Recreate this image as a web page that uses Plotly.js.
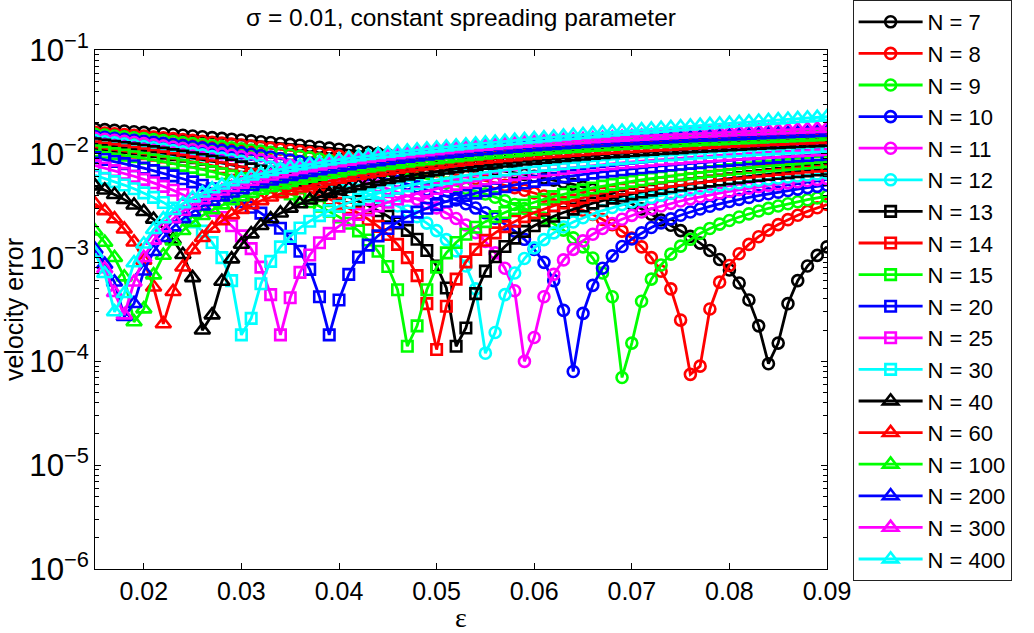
<!DOCTYPE html>
<html><head><meta charset="utf-8">
<script src="https://cdn.plot.ly/plotly-3.0.1.min.js"></script>
<style>html,body{margin:0;padding:0;background:#fff}#chart{width:1034px;height:633px}</style>
</head><body><div id="chart"></div>
<script>
// spreading parameter epsilon (x axis)
const epsilon = [0.015,0.016,0.017,0.018,0.019,0.020,0.021,0.022,0.023,0.024,0.025,0.026,0.027,0.028,0.029,0.030,0.031,0.032,0.033,0.034,0.035,0.036,0.037,0.038,0.039,0.040,0.041,0.042,0.043,0.044,0.045,0.046,0.047,0.048,0.049,0.050,0.051,0.052,0.053,0.054,0.055,0.056,0.057,0.058,0.059,0.060,0.061,0.062,0.063,0.064,0.065,0.066,0.067,0.068,0.069,0.070,0.071,0.072,0.073,0.074,0.075,0.076,0.077,0.078,0.079,0.080,0.081,0.082,0.083,0.084,0.085,0.086,0.087,0.088,0.089,0.090];

// velocity error, in units of 1e-3
const errN7 = [17.33,17.08,16.83,16.58,16.33,16.08,15.83,15.58,15.33,15.08,14.83,14.58,14.33,14.08,13.83,13.58,13.33,13.08,12.83,12.58,12.33,12.08,11.83,11.58,11.33,11.08,10.83,10.58,10.33,10.08,9.83,9.58,9.33,9.08,8.83,8.58,8.33,8.08,7.83,7.58,7.33,7.08,6.83,6.58,6.33,6.08,5.83,5.58,5.33,5.08,4.8,4.53,4.25,3.95,3.65,3.3,2.95,2.62,2.3,2.05,1.82,1.6,1.38,1.17,0.96,0.76,0.57,0.39,0.22,0.095,0.15,0.36,0.6,0.83,1.05,1.27];
const errN8 = [16.11,15.85,15.58,15.32,15.05,14.79,14.52,14.26,13.99,13.73,13.46,13.20,12.93,12.67,12.40,12.14,11.87,11.61,11.34,11.08,10.81,10.55,10.28,10.02,9.75,9.49,9.22,8.96,8.69,8.43,8.16,7.90,7.63,7.37,7.10,6.84,6.57,6.31,6.04,5.78,5.51,5.25,4.98,4.72,4.45,4.19,3.92,3.66,3.39,3.13,2.86,2.60,2.33,2.07,1.80,1.54,1.27,1.0,0.74,0.5,0.25,0.075,0.09,0.32,0.58,0.84,1.09,1.34,1.59,1.84,2.08,2.32,2.56,2.79,3.02,3.25];
const errN9 = [15.40,15.12,14.84,14.55,14.27,13.99,13.71,13.42,13.14,12.86,12.58,12.29,12.01,11.73,11.45,11.16,10.88,10.60,10.31,10.03,9.75,9.47,9.18,8.90,8.62,8.34,8.05,7.77,7.49,7.21,6.92,6.64,6.36,6.08,5.79,5.51,5.23,4.95,4.66,4.38,4.10,3.82,3.53,3.25,2.97,2.68,2.40,2.12,1.84,1.55,1.27,0.99,0.71,0.42,0.07,0.15,0.38,0.62,0.85,1.08,1.29,1.50,1.71,1.91,2.10,2.28,2.46,2.64,2.81,2.98,3.14,3.30,3.45,3.61,3.75,3.90];
const errN10 = [14.70,14.40,14.10,13.80,13.50,13.20,12.90,12.60,12.30,12.00,11.70,11.40,11.10,10.80,10.50,10.20,9.90,9.60,9.30,9.00,8.70,8.40,8.10,7.80,7.50,7.20,6.90,6.60,6.30,6.00,5.70,5.40,5.10,4.80,4.50,4.20,3.90,3.60,3.30,3.00,2.70,2.40,2.10,1.80,1.50,1.20,0.90,0.60,0.31,0.08,0.29,0.54,0.79,1.04,1.28,1.51,1.73,1.95,2.16,2.36,2.56,2.75,2.94,3.12,3.29,3.47,3.64,3.80,3.96,4.12,4.27,4.43,4.57,4.72,4.86,5.00];
const errN11 = [14.11,13.79,13.47,13.16,12.84,12.52,12.20,11.89,11.57,11.25,10.94,10.62,10.30,9.99,9.67,9.35,9.03,8.72,8.40,8.08,7.77,7.45,7.13,6.82,6.50,6.18,5.86,5.55,5.23,4.91,4.60,4.28,3.96,3.65,3.33,3.01,2.69,2.38,2.06,1.74,1.43,1.11,0.79,0.48,0.10,0.17,0.42,0.69,0.95,1.20,1.45,1.68,1.91,2.13,2.34,2.55,2.75,2.95,3.14,3.33,3.51,3.68,3.86,4.03,4.19,4.35,4.51,4.67,4.82,4.97,5.11,5.25,5.39,5.53,5.67,5.80];
const errN12 = [13.41,13.07,12.74,12.41,12.08,11.75,11.42,11.09,10.76,10.43,10.10,9.76,9.43,9.10,8.77,8.44,8.11,7.78,7.45,7.12,6.79,6.45,6.12,5.79,5.46,5.13,4.80,4.47,4.14,3.81,3.48,3.14,2.81,2.48,2.15,1.82,1.49,1.16,0.83,0.50,0.12,0.19,0.44,0.71,0.98,1.24,1.49,1.73,1.97,2.20,2.42,2.63,2.84,3.04,3.24,3.43,3.62,3.80,3.98,4.15,4.32,4.49,4.65,4.81,4.97,5.12,5.27,5.42,5.56,5.71,5.84,5.98,6.12,6.25,6.38,6.50];
const errN13 = [12.49,12.15,11.82,11.49,11.16,10.82,10.49,10.16,9.82,9.49,9.16,8.82,8.49,8.16,7.83,7.49,7.16,6.83,6.49,6.16,5.83,5.49,5.16,4.83,4.50,4.16,3.83,3.50,3.16,2.83,2.50,2.16,1.83,1.50,1.17,0.83,0.51,0.14,0.21,0.45,0.74,1.02,1.28,1.54,1.79,2.03,2.27,2.50,2.72,2.93,3.14,3.35,3.54,3.74,3.93,4.11,4.29,4.47,4.64,4.81,4.97,5.14,5.29,5.45,5.60,5.75,5.90,6.04,6.18,6.32,6.46,6.59,6.72,6.85,6.98,7.10];
const errN14 = [11.69,11.36,11.02,10.69,10.35,10.02,9.69,9.35,9.02,8.68,8.35,8.02,7.68,7.35,7.01,6.68,6.35,6.01,5.68,5.34,5.01,4.68,4.34,4.01,3.67,3.34,3.01,2.67,2.34,2.00,1.67,1.34,1.00,0.67,0.36,0.13,0.34,0.62,0.91,1.20,1.47,1.73,1.99,2.24,2.48,2.71,2.94,3.16,3.37,3.58,3.79,3.99,4.18,4.37,4.56,4.74,4.92,5.09,5.26,5.42,5.59,5.75,5.90,6.06,6.21,6.36,6.50,6.64,6.78,6.92,7.06,7.19,7.32,7.45,7.58,7.70];
const errN15 = [10.69,10.36,10.03,9.71,9.38,9.05,8.72,8.39,8.06,7.73,7.40,7.07,6.74,6.42,6.09,5.76,5.43,5.10,4.77,4.44,4.11,3.78,3.45,3.13,2.80,2.47,2.14,1.81,1.48,1.15,0.82,0.49,0.14,0.22,0.49,0.81,1.11,1.40,1.68,1.96,2.22,2.48,2.72,2.97,3.20,3.43,3.65,3.87,4.08,4.29,4.49,4.69,4.88,5.07,5.25,5.43,5.61,5.78,5.95,6.11,6.28,6.44,6.59,6.75,6.90,7.05,7.19,7.34,7.48,7.62,7.75,7.89,8.02,8.15,8.28,8.40];
const errN20 = [9.19,8.81,8.43,8.04,7.66,7.28,6.89,6.51,6.13,5.75,5.36,4.98,4.60,4.21,3.83,3.45,3.06,2.68,2.30,1.92,1.53,1.15,0.77,0.42,0.18,0.39,0.69,1.01,1.32,1.62,1.91,2.20,2.47,2.74,2.99,3.24,3.49,3.73,3.96,4.18,4.40,4.62,4.83,5.03,5.23,5.43,5.62,5.81,5.99,6.17,6.34,6.52,6.69,6.85,7.02,7.18,7.34,7.49,7.64,7.79,7.94,8.08,8.23,8.37,8.50,8.64,8.77,8.91,9.04,9.16,9.29,9.41,9.54,9.66,9.78,9.90];
const errN25 = [7.70,7.29,6.89,6.48,6.08,5.67,5.27,4.86,4.46,4.05,3.65,3.24,2.84,2.43,2.03,1.62,1.22,0.81,0.44,0.18,0.41,0.72,1.06,1.39,1.71,2.01,2.31,2.60,2.88,3.15,3.41,3.67,3.92,4.16,4.40,4.63,4.86,5.08,5.29,5.50,5.71,5.91,6.11,6.30,6.49,6.67,6.86,7.03,7.21,7.38,7.55,7.71,7.88,8.04,8.19,8.35,8.50,8.65,8.80,8.94,9.09,9.23,9.37,9.50,9.64,9.77,9.90,10.03,10.16,10.28,10.41,10.53,10.65,10.77,10.89,11.00];
const errN30 = [6.20,5.80,5.40,5.00,4.60,4.20,3.80,3.40,3.00,2.60,2.20,1.80,1.40,1.00,0.60,0.18,0.26,0.56,0.92,1.27,1.60,1.93,2.24,2.54,2.84,3.12,3.40,3.67,3.93,4.18,4.43,4.67,4.91,5.14,5.37,5.59,5.80,6.01,6.22,6.42,6.62,6.81,7.00,7.19,7.37,7.55,7.73,7.90,8.07,8.24,8.40,8.56,8.72,8.88,9.03,9.18,9.33,9.48,9.62,9.77,9.91,10.05,10.18,10.32,10.45,10.58,10.71,10.84,10.96,11.09,11.21,11.33,11.45,11.57,11.69,11.80];
const errN40 = [4.90,4.47,4.05,3.62,3.20,2.77,2.34,1.92,1.49,1.07,0.64,0.20,0.28,0.59,0.97,1.34,1.69,2.03,2.36,2.68,2.99,3.29,3.58,3.86,4.14,4.40,4.67,4.92,5.17,5.41,5.65,5.88,6.11,6.33,6.55,6.76,6.97,7.17,7.37,7.57,7.76,7.95,8.13,8.32,8.50,8.67,8.84,9.01,9.18,9.35,9.51,9.67,9.82,9.98,10.13,10.28,10.43,10.57,10.72,10.86,11.00,11.14,11.27,11.41,11.54,11.67,11.80,11.93,12.05,12.18,12.30,12.42,12.54,12.66,12.78,12.89];
const errN60 = [3.30,2.83,2.36,1.88,1.41,0.94,0.52,0.23,0.47,0.81,1.19,1.56,1.91,2.26,2.59,2.91,3.23,3.53,3.83,4.12,4.40,4.67,4.94,5.19,5.45,5.69,5.94,6.17,6.40,6.63,6.85,7.07,7.28,7.49,7.69,7.89,8.09,8.28,8.47,8.65,8.84,9.02,9.19,9.37,9.54,9.71,9.87,10.03,10.19,10.35,10.51,10.66,10.81,10.96,11.11,11.25,11.39,11.54,11.67,11.81,11.95,12.08,12.21,12.34,12.47,12.60,12.72,12.85,12.97,13.09,13.21,13.33,13.45,13.57,13.68,13.79];
const errN100 = [1.80,1.40,1.00,0.65,0.24,0.32,0.68,1.05,1.44,1.82,2.18,2.54,2.88,3.21,3.53,3.85,4.15,4.45,4.74,5.02,5.29,5.56,5.82,6.08,6.33,6.57,6.81,7.04,7.27,7.49,7.71,7.93,8.14,8.35,8.55,8.75,8.94,9.14,9.33,9.51,9.70,9.88,10.05,10.23,10.40,10.57,10.73,10.90,11.06,11.22,11.37,11.53,11.68,11.83,11.98,12.13,12.27,12.41,12.55,12.69,12.83,12.96,13.10,13.23,13.36,13.49,13.62,13.74,13.87,13.99,14.11,14.23,14.35,14.47,14.59,14.70];
const errN200 = [1.20,0.86,0.58,0.27,0.36,0.74,1.14,1.56,1.97,2.37,2.75,3.13,3.49,3.84,4.18,4.51,4.83,5.15,5.45,5.75,6.04,6.32,6.60,6.87,7.14,7.40,7.65,7.90,8.14,8.38,8.61,8.84,9.07,9.29,9.51,9.72,9.93,10.13,10.34,10.53,10.73,10.92,11.11,11.30,11.48,11.66,11.84,12.01,12.19,12.36,12.53,12.69,12.85,13.02,13.18,13.33,13.49,13.64,13.79,13.94,14.09,14.23,14.38,14.52,14.66,14.80,14.93,15.07,15.20,15.34,15.47,15.60,15.72,15.85,15.98,16.10];
const errN300 = [1.10,0.78,0.46,0.28,0.58,1.00,1.47,1.93,2.37,2.79,3.20,3.60,3.99,4.37,4.73,5.09,5.43,5.77,6.10,6.42,6.73,7.04,7.34,7.63,7.92,8.19,8.47,8.73,9.00,9.25,9.51,9.75,10.00,10.23,10.47,10.70,10.92,11.15,11.36,11.58,11.79,12.00,12.20,12.40,12.60,12.80,12.99,13.18,13.36,13.55,13.73,13.91,14.09,14.26,14.43,14.60,14.77,14.93,15.10,15.26,15.42,15.58,15.73,15.88,16.04,16.19,16.34,16.48,16.63,16.77,16.91,17.05,17.19,17.33,17.46,17.60];
const errN400 = [1.10,0.70,0.30,0.45,0.89,1.35,1.86,2.36,2.84,3.30,3.75,4.18,4.59,4.99,5.37,5.74,6.09,6.44,6.76,7.08,7.38,7.67,7.96,8.24,8.51,8.78,9.06,9.33,9.59,9.85,10.11,10.36,10.61,10.87,11.12,11.37,11.62,11.88,12.14,12.40,12.65,12.91,13.18,13.44,13.71,13.97,14.23,14.51,14.78,15.05,15.33,15.60,15.88,16.16,16.44,16.72,17.00,17.29,17.58,17.87,18.16,18.45,18.75,19.05,19.34,19.64,19.94,20.25,20.56,20.86,21.17,21.48,21.79,22.11,22.43,22.74];

const seriesNames = ['N = 7','N = 8','N = 9','N = 10','N = 11','N = 12','N = 13','N = 14','N = 15','N = 20','N = 25','N = 30','N = 40','N = 60','N = 100','N = 200','N = 300','N = 400'];
const seriesValues = [errN7,errN8,errN9,errN10,errN11,errN12,errN13,errN14,errN15,errN20,errN25,errN30,errN40,errN60,errN100,errN200,errN300,errN400];

// styles
const palette = ['#000000','#ff0000','#00ff00','#0000ff','#ff00ff','#00ffff'];
const markerSymbols = ['circle-open','square-open','triangle-up-open'];
const markerSizes = [11, 10.5, 13.5];

const traces = seriesValues.map((vals, i) => {
  const c = palette[i % 6];
  const g = Math.floor(i / 6);
  return {
    x: epsilon,
    y: vals.map(v => v * 1e-3),
    type: 'scatter',
    mode: 'lines+markers',
    name: seriesNames[i],
    line: {color: c, width: 2.8},
    marker: {symbol: markerSymbols[g], size: markerSizes[g], color: c, line: {color: c, width: 2.6}}
  };
});

const FONT = 'Liberation Sans, Arial, Helvetica, sans-serif';
const layout = {
  width: 1034, height: 633,
  margin: {l: 95, r: 207, t: 50, b: 64, autoexpand: false},
  paper_bgcolor: '#ffffff', plot_bgcolor: '#ffffff',
  font: {family: FONT, size: 25, color: '#000'},
  showlegend: true,
  title: {text: 'σ = 0.01, constant spreading parameter', font: {family: FONT, size: 24.5, color: '#000'},
          xref: 'paper', x: 0.5, xanchor: 'center', yref: 'container', y: 0.972, yanchor: 'middle'},
  xaxis: {
    range: [0.015, 0.09], tickvals: [0.02,0.03,0.04,0.05,0.06,0.07,0.08,0.09],
    ticktext: ['0.02','0.03','0.04','0.05','0.06','0.07','0.08','0.09'],
    ticks: 'inside', ticklen: 6, tickwidth: 1, tickcolor: '#000',
    showline: true, linecolor: '#000', linewidth: 1, mirror: 'ticks',
    showgrid: false, zeroline: false, automargin: false,
    tickfont: {family: FONT, size: 25, color: '#000'},
    title: {text: 'ε', font: {family: 'Liberation Serif, DejaVu Serif, serif', size: 28, color: '#000'}, standoff: 0}
  },
  yaxis: {
    type: 'log', range: [-6, -1], dtick: 1, exponentformat: 'power',
    ticks: 'inside', ticklen: 6, tickwidth: 1, tickcolor: '#000',
    minor: {ticks: 'inside', ticklen: 4, tickcolor: '#000', dtick: 'D1', showgrid: false},
    showline: true, linecolor: '#000', linewidth: 1, mirror: 'ticks',
    showgrid: false, zeroline: false, automargin: false,
    tickfont: {family: FONT, size: 25, color: '#000'},
    title: {text: 'velocity error', font: {family: FONT, size: 25, color: '#000'}, standoff: 2}
  },
  legend: {
    x: 1.035, xanchor: 'left', y: 1.0963, yanchor: 'top',
    bgcolor: '#ffffff', bordercolor: '#222', borderwidth: 1,
    font: {family: FONT, size: 22, color: '#000'},
    itemwidth: 64, traceorder: 'normal', maxheight: 633
  }
};

Plotly.newPlot('chart', traces, layout, {displayModeBar: false, staticPlot: true});
</script>
</body></html>
